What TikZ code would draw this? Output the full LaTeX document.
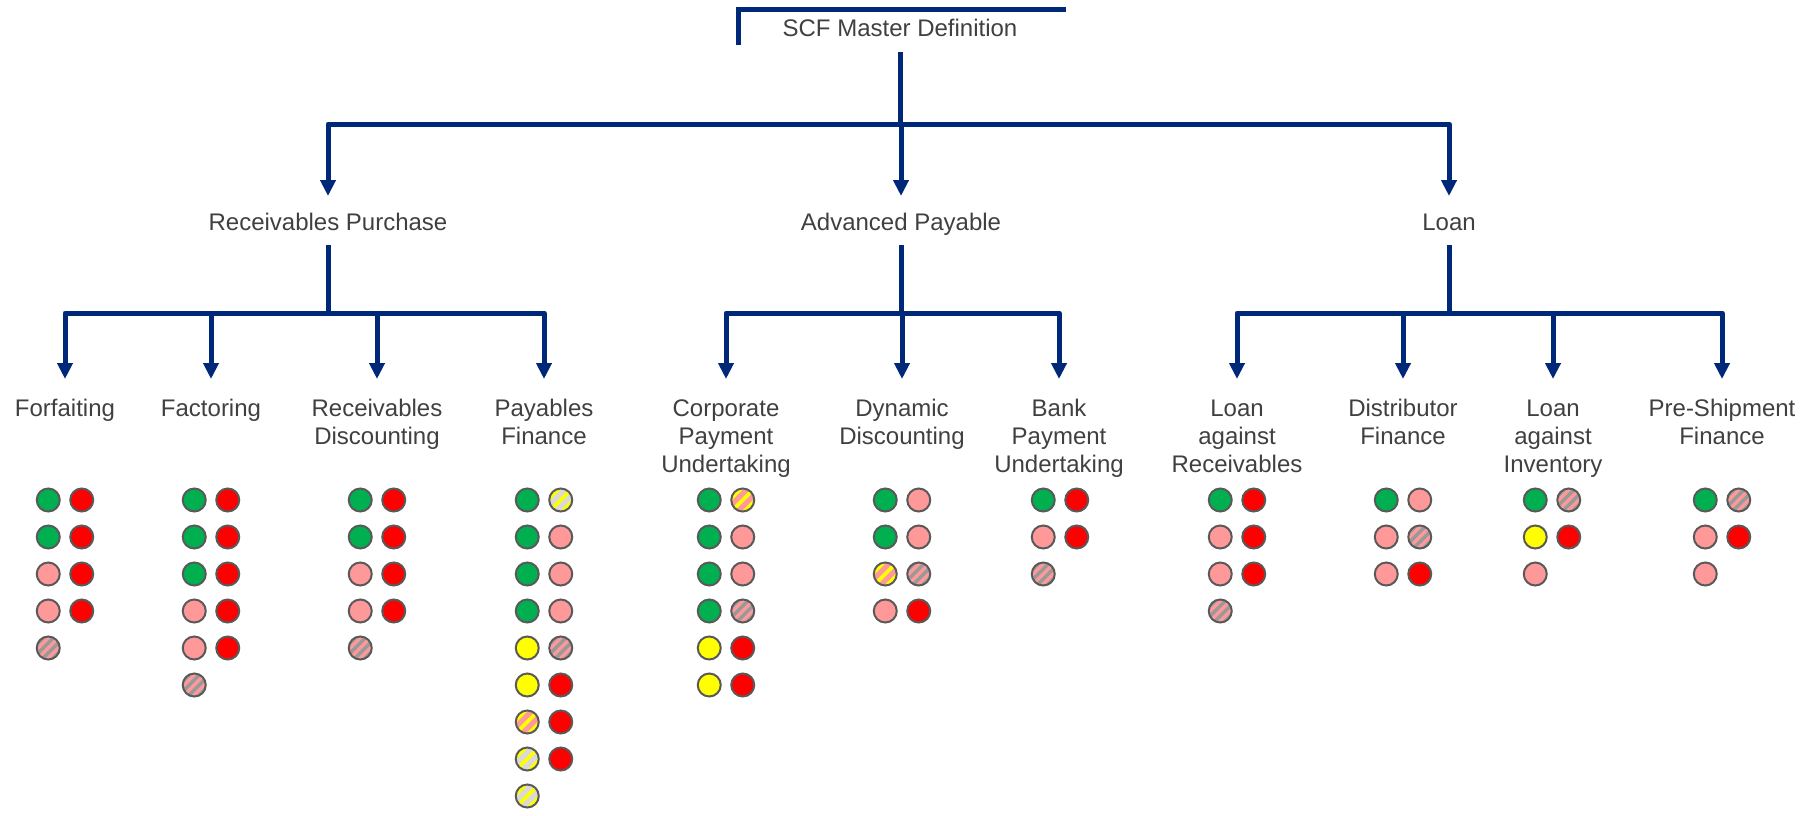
\documentclass[tikz,border=0pt]{standalone}
\usepackage{fontspec}
\setmainfont{Liberation Sans}
\usetikzlibrary{arrows.meta}
\definecolor{navy}{RGB}{0,40,120}
\definecolor{txt}{RGB}{64,64,64}
\definecolor{cG}{RGB}{0,176,80}
\definecolor{cR}{RGB}{255,0,0}
\definecolor{cP}{RGB}{255,153,153}
\definecolor{cY}{RGB}{255,255,0}
\definecolor{cGr}{RGB}{153,153,153}
\definecolor{cL}{RGB}{217,217,217}
\definecolor{cB}{RGB}{89,89,89}
\newcommand{\dotcol}[3]{%
  \foreach \ds/\dr/\dc in {#3} {\node[\ds] (#1-\dr-\dc) at (#2+\dc*33.5-16.75, 463+37*\dr) {};}}
\begin{document}
\begin{tikzpicture}[x=1pt,y=-1pt,
  lbl/.style={font=\fontsize{24}{28}\selectfont, text=txt, align=center, inner sep=0pt, anchor=north},
  conn/.style={draw=navy, line width=5pt, line join=round},
  arr/.style={conn, -{Triangle[width=15pt,length=16pt]}},
  dot/.style={circle, draw=cB, line width=2pt, minimum size=23pt, inner sep=0pt},
  striped/.style n args={3}{path picture={%
    \foreach \o in {#3}
      \draw[#1, line width=#2] ([shift={(\o-20,20)}]path picture bounding box.center) -- ([shift={(\o+20,-20)}]path picture bounding box.center);}},
  dG/.style={dot, fill=cG},
  dR/.style={dot, fill=cR},
  dP/.style={dot, fill=cP},
  dY/.style={dot, fill=cY},
  dGP/.style={dot, fill=cGr, striped={cP}{3.4pt}{-50,-40,...,50}},
  dLY/.style={dot, fill=cL, striped={cY}{3.8pt}{-52,-39,...,52}},
  dPY/.style={dot, fill=cP, striped={cY}{3.8pt}{-52,-39,...,52}},
]
\useasboundingbox (0,0) rectangle (1811,815);

% labels
\node[lbl] (scf) at (900,16.4) {\strut SCF Master Definition};
\node[lbl] (rp) at (328,210.4) {\strut Receivables Purchase};
\node[lbl] (ap) at (901,210.4) {\strut Advanced Payable};
\node[lbl] (loan) at (1449,210.4) {\strut Loan};

\node[lbl] (forf) at (65,396.4) {\strut Forfaiting};
\node[lbl] (fact) at (211,396.4) {\strut Factoring};
\node[lbl] (rd) at (377,396.4) {\strut Receivables\\Discounting};
\node[lbl] (pf) at (544,396.4) {\strut Payables\\Finance};
\node[lbl] (cpu) at (726,396.4) {\strut Corporate\\Payment\\Undertaking};
\node[lbl] (dd) at (902,396.4) {\strut Dynamic\\Discounting};
\node[lbl] (bpu) at (1059,396.4) {\strut Bank\\Payment\\Undertaking};
\node[lbl] (lar) at (1237,396.4) {\strut Loan\\against\\Receivables};
\node[lbl] (df) at (1403,396.4) {\strut Distributor\\Finance};
\node[lbl] (lai) at (1553,396.4) {\strut Loan\\against\\Inventory};
\node[lbl] (psf) at (1722,396.4) {\strut Pre-Shipment\\Finance};

% top bracket
\draw[conn, line join=miter] (738,45) -- (738,9.3) -- (1066,9.3);

% junctions
\coordinate (jTop) at (900,124);
\coordinate (jL) at (328,313);
\coordinate (jM) at (901,313);
\coordinate (jR) at (1449,313);

\draw[conn, shorten <=7.6pt] (scf.south) -- (jTop);
\draw[arr, shorten >=14.4pt] (jTop) -| (rp.north);
\draw[arr, shorten >=14.4pt] (jTop) -| (ap.north);
\draw[arr, shorten >=14.4pt] (jTop) -| (loan.north);

\draw[conn, shorten <=6.6pt] (rp.south) -- (jL);
\draw[conn, shorten <=6.6pt] (ap.south) -- (jM);
\draw[conn, shorten <=6.6pt] (loan.south) -- (jR);

\foreach \c in {forf,fact,rd,pf} \draw[arr, shorten >=17.4pt] (jL) -| (\c.north);
\foreach \c in {cpu,dd,bpu} \draw[arr, shorten >=17.4pt] (jM) -| (\c.north);
\foreach \c in {lar,df,lai,psf} \draw[arr, shorten >=17.4pt] (jR) -| (\c.north);

% dots
\dotcol{forf}{65}{dG/1/0, dR/1/1, dG/2/0, dR/2/1, dP/3/0, dR/3/1, dP/4/0, dR/4/1, dGP/5/0}
\dotcol{fact}{211}{dG/1/0, dR/1/1, dG/2/0, dR/2/1, dG/3/0, dR/3/1, dP/4/0, dR/4/1, dP/5/0, dR/5/1, dGP/6/0}
\dotcol{rd}{377}{dG/1/0, dR/1/1, dG/2/0, dR/2/1, dP/3/0, dR/3/1, dP/4/0, dR/4/1, dGP/5/0}
\dotcol{pf}{544}{dG/1/0, dLY/1/1, dG/2/0, dP/2/1, dG/3/0, dP/3/1, dG/4/0, dP/4/1, dY/5/0, dGP/5/1, dY/6/0, dR/6/1, dPY/7/0, dR/7/1, dLY/8/0, dR/8/1, dLY/9/0}
\dotcol{cpu}{726}{dG/1/0, dPY/1/1, dG/2/0, dP/2/1, dG/3/0, dP/3/1, dG/4/0, dGP/4/1, dY/5/0, dR/5/1, dY/6/0, dR/6/1}
\dotcol{dd}{902}{dG/1/0, dP/1/1, dG/2/0, dP/2/1, dPY/3/0, dGP/3/1, dP/4/0, dR/4/1}
\dotcol{bpu}{1060}{dG/1/0, dR/1/1, dP/2/0, dR/2/1, dGP/3/0}
\dotcol{lar}{1237}{dG/1/0, dR/1/1, dP/2/0, dR/2/1, dP/3/0, dR/3/1, dGP/4/0}
\dotcol{df}{1403}{dG/1/0, dP/1/1, dP/2/0, dGP/2/1, dP/3/0, dR/3/1}
\dotcol{lai}{1552}{dG/1/0, dGP/1/1, dY/2/0, dR/2/1, dP/3/0}
\dotcol{psf}{1722}{dG/1/0, dGP/1/1, dP/2/0, dR/2/1, dP/3/0}
\end{tikzpicture}
\end{document}
